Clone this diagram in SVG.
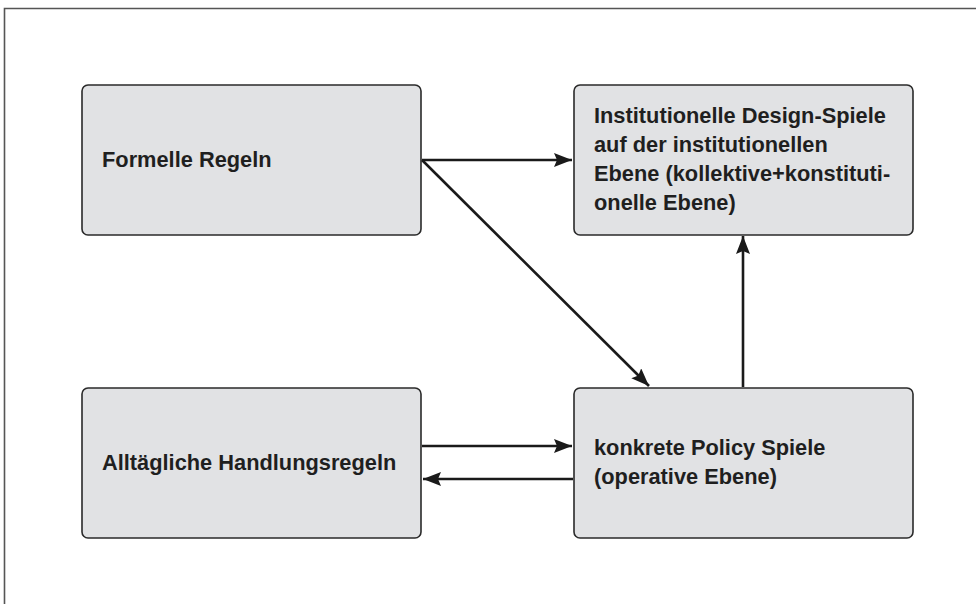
<svg xmlns="http://www.w3.org/2000/svg" width="976" height="604" viewBox="0 0 976 604">
<style>
.box{fill:#e1e2e4;stroke:#2a2a2a;stroke-width:1.6}
.t{font-family:"Liberation Sans",Arial,sans-serif;font-weight:bold;font-size:21.8px;fill:#1f1f1f}
.c{fill:none;stroke:#1a1a1a;stroke-width:2.6}
.frame{fill:none;stroke:#555;stroke-width:1.6}
</style>
<defs>
<marker id="ah" markerUnits="userSpaceOnUse" markerWidth="20" markerHeight="16" refX="18" refY="7" orient="auto">
<path d="M0,0 L18,7 L0,14 L3,7 Z" fill="#1a1a1a"/>
</marker>
</defs>
<rect width="976" height="604" fill="#fff"/>
<path class="frame" d="M4.5,604 V8.5 H976"/>
<g id="formelle">
<rect class="box" x="82" y="85" width="339" height="150" rx="6"/>
<text class="t" x="102" y="167">Formelle Regeln</text>
</g>
<g id="institutionelle">
<rect class="box" x="574" y="85" width="339" height="150" rx="6"/>
<text class="t" x="594" y="123">Institutionelle Design-Spiele</text>
<text class="t" x="594" y="152">auf der institutionellen</text>
<text class="t" x="594" y="181">Ebene (kollektive+konstituti-</text>
<text class="t" x="594" y="210">onelle Ebene)</text>
</g>
<g id="alltaegliche">
<rect class="box" x="82" y="388" width="339" height="150" rx="6"/>
<text class="t" x="102" y="470">Alltägliche Handlungsregeln</text>
</g>
<g id="konkrete">
<rect class="box" x="574" y="388" width="339" height="150" rx="6"/>
<text class="t" x="594" y="455">konkrete Policy Spiele</text>
<text class="t" x="594" y="484">(operative Ebene)</text>
</g>
<g id="connectors">
<path class="c" d="M422,160 H572" marker-end="url(#ah)"/>
<path class="c" d="M422,160 L649,386" marker-end="url(#ah)"/>
<path class="c" d="M743,387 V236" marker-end="url(#ah)"/>
<path class="c" d="M422,446 H572" marker-end="url(#ah)"/>
<path class="c" d="M573,479 H423" marker-end="url(#ah)"/>
</g>
</svg>
